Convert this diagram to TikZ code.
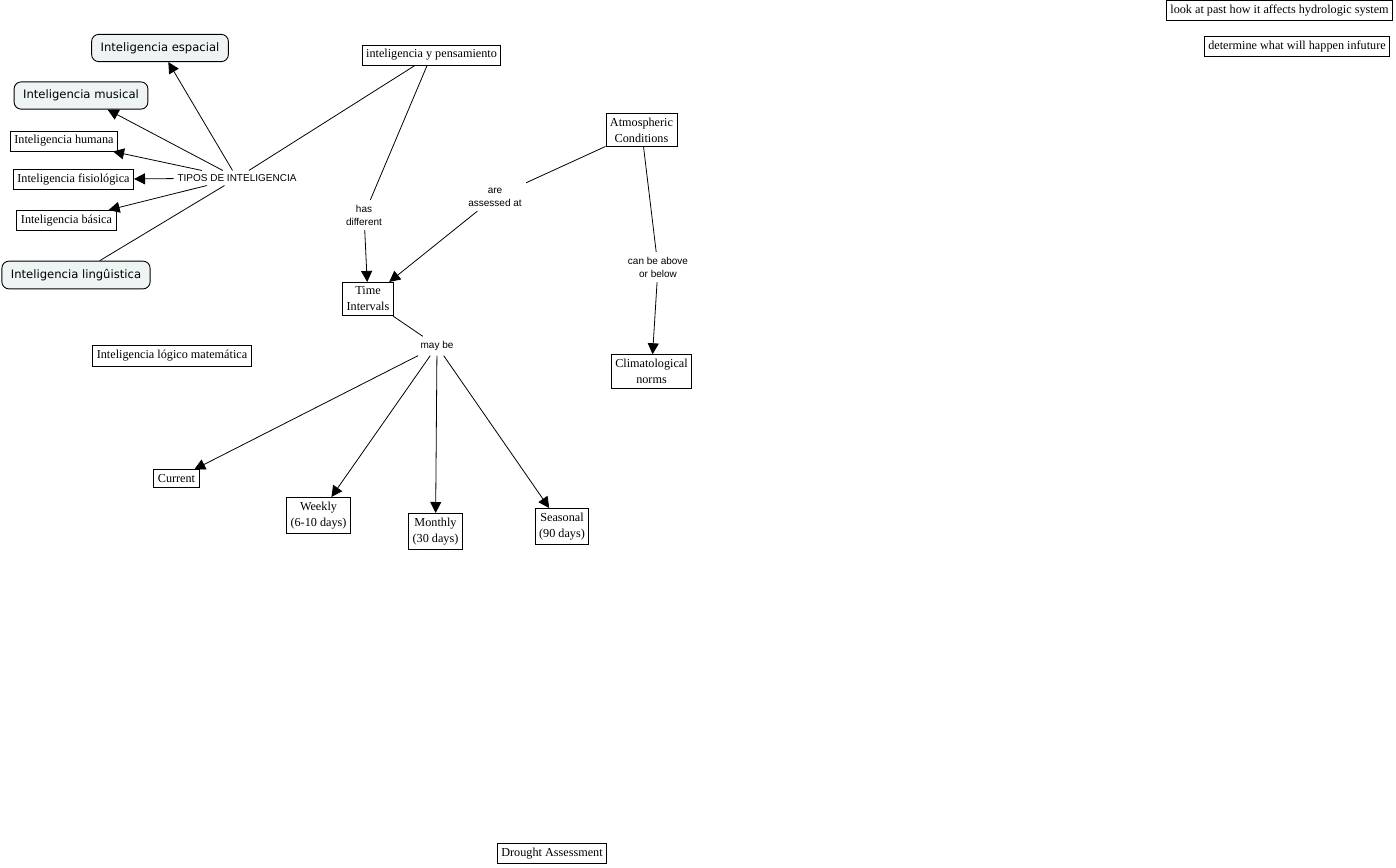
\documentclass[tikz,border=0pt]{standalone}
\usepackage{fontspec}
\setmainfont{Liberation Serif}
\newfontfamily\verdfont{DejaVu Sans}
\newfontfamily\arialfont{Liberation Sans}
\usetikzlibrary{arrows.meta}
\definecolor{cmapfill}{RGB}{238,244,244}

\begin{document}
\begin{tikzpicture}[x=1pt, y=-1pt, thick,
  concept/.style={draw, line width=0.9pt, align=center, inner xsep=4pt, inner ysep=4.5pt,
    font=\fontsize{12.2}{16}\selectfont},
  softbox/.style={draw, line width=0.9pt, rounded corners=7pt, fill=cmapfill,
    inner xsep=9pt, inner ysep=8pt, font=\verdfont\fontsize{11.6}{13}\selectfont},
  linkph/.style={align=center, inner sep=1pt, outer sep=4pt,
    font=\arialfont\fontsize{10}{13}\selectfont},
  link/.style={line width=0.8pt},
  arr/.style={line width=0.8pt, -{Triangle[length=11pt, width=11pt]}}]
  \useasboundingbox (0,0) rectangle (1396,867);
  % conceptos de inteligencia
  \node[softbox] (espacial) at (160,48) {Inteligencia espacial};
  \node[softbox] (musical) at (81,95.5) {Inteligencia musical};
  \node[concept] (humana) at (64,141) {Inteligencia humana};
  \node[concept] (fisio) at (73.5,179.5) {Inteligencia fisiológica};
  \node[concept] (basica) at (66.5,220.5) {Inteligencia básica};
  \node[softbox] (lingu) at (76,275) {Inteligencia lingûistica};
  \node[concept] (logico) at (172,356) {Inteligencia lógico matemática};
  \node[linkph, outer sep=3pt] (tipos) at (237,178) {TIPOS DE INTELIGENCIA};
  \node[concept] (ypens) at (431.5,55) {inteligencia y pensamiento};
  % drought part
  \node[concept] (atmos) at (641.5,130) {Atmospheric\\Conditions};
  \node[concept] (timeint) at (368,299) {Time\\Intervals};
  \node[concept] (clima) at (651.5,371.5) {Climatological\\norms};
  \node[concept] (current) at (176.5,478.5) {Current};
  \node[concept] (weekly) at (318.5,515.5) {Weekly\\(6-10 days)};
  \node[concept] (monthly) at (435.5,531.5) {Monthly\\(30 days)};
  \node[concept] (seasonal) at (562,526.5) {Seasonal\\(90 days)};
  \node[concept] (past) at (1279.5,10.5) {look at past how it affects hydrologic system};
  \node[concept] (future) at (1297,46.5) {determine what will happen infuture};
  \node[concept] (drought) at (552,853.5) {Drought Assessment};
  % frases de enlace
  \node[linkph] (hasdiff) at (364,215) {has\\different};
  \node[linkph] (assessed) at (495,197) {are\\assessed at};
  \node[linkph] (above) at (658,267) {can be above\\or below};
  \node[linkph] (maybe) at (437,346) {may be};
  % conexiones
  \draw[arr] (tipos) -- (espacial);
  \draw[arr] (tipos) -- (musical);
  \draw[arr] (tipos) -- (humana);
  \draw[arr] (tipos) -- (fisio);
  \draw[arr] (tipos) -- (basica);
  \draw[link] (tipos) -- (lingu);
  \draw[link] (ypens) -- (tipos);
  \draw[link] (ypens) -- (hasdiff);
  \draw[arr] (hasdiff) -- (timeint);
  \draw[link] (atmos) -- (assessed);
  \draw[arr] (assessed) -- (timeint);
  \draw[link] (atmos) -- (above);
  \draw[arr] (above) -- (clima);
  \draw[link] (timeint) -- (maybe);
  \draw[arr] (maybe) -- (current);
  \draw[arr] (maybe) -- (weekly);
  \draw[arr] (maybe) -- (monthly);
  \draw[arr] (maybe) -- (seasonal);
\end{tikzpicture}
\end{document}
